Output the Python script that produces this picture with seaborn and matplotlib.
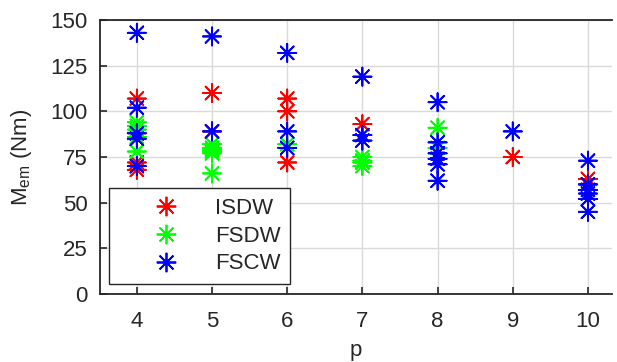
import matplotlib
matplotlib.use("Agg")
import matplotlib.pyplot as plt
import seaborn as sns
import pandas as pd
import numpy as np

# values
isdw_p = [4, 4, 4, 4, 5, 5, 6, 6, 6, 7, 9, 10, 10]
isdw_m = [107, 88, 72, 68, 110, 89, 107, 100, 72, 93, 75, 63, 60]

fsdw_p = [4, 4, 4, 4, 4, 5, 5, 5, 5, 5, 5, 6, 7, 7, 7, 7, 8, 8]
fsdw_m = [94, 92, 90, 86, 78, 82, 80, 79, 78, 77, 66, 82, 75, 73, 72, 70, 91, 80]

fscw_p = [4, 4, 4, 4, 4, 5, 5, 6, 6, 6, 7, 7, 7, 8, 8, 8, 8, 8, 8, 9, 10, 10, 10, 10, 10, 10]
fscw_m = [143, 102, 88, 85, 70, 141, 89, 132, 89, 80, 119, 87, 84, 105, 83, 77, 74, 71, 62, 89, 73, 60, 57, 55, 52, 45]

df = pd.concat([
    pd.DataFrame({"p": isdw_p, "M": isdw_m, "type": "ISDW"}),
    pd.DataFrame({"p": fsdw_p, "M": fsdw_m, "type": "FSDW"}),
    pd.DataFrame({"p": fscw_p, "M": fscw_m, "type": "FSCW"}),
])

sns.set_style("whitegrid")
plt.rcParams["font.family"] = ["Liberation Sans", "DejaVu Sans"]

fig = plt.figure(figsize=(6.17, 3.62), dpi=100)
ax = fig.add_axes([100 / 617, 68 / 362, 512 / 617, 274 / 362])

colors = {"ISDW": "#ff0000", "FSDW": "#00ff00", "FSCW": "#0000ff"}
sns.scatterplot(data=df, x="p", y="M", hue="type", palette=colors,
                marker=(8, 2, 0), s=170, linewidth=1.3, ax=ax, legend=False, zorder=3)

ax.set_xlim(3.51, 10.32)
ax.set_ylim(0, 150)
ax.set_xticks(np.arange(4, 11))
ax.set_yticks(np.arange(0, 151, 25))
ax.tick_params(labelsize=16, direction="in", length=5, width=1.2, colors="#262626",
               top=False, right=False, bottom=True, left=True)
ax.tick_params(axis="x", pad=12)
ax.tick_params(axis="y", pad=9)
ax.grid(True, color="#dadada", linewidth=1)
for s in ax.spines.values():
    s.set_color("#262626")
    s.set_linewidth(1.3)
ax.spines["right"].set_visible(False)

ax.set_xlabel("p", fontsize=16, color="#262626", labelpad=6)
ax.set_ylabel(r"M$_{\mathregular{em}}$ (Nm)", fontsize=16, color="#262626", labelpad=12)

handles = [plt.Line2D([], [], linestyle="none", marker=(8, 2, 0), markersize=14,
                      markeredgewidth=1.3, color=colors[k]) for k in ["ISDW", "FSDW", "FSCW"]]
leg = ax.legend(handles, ["ISDW", "FSDW", "FSCW"], loc="lower left",
                bbox_to_anchor=(0.018, 0.035), fontsize=16, frameon=True, fancybox=False,
                edgecolor="#262626", framealpha=1, handlelength=4.2, handletextpad=0.1,
                labelspacing=0.3, borderpad=0.45, borderaxespad=0)
leg.get_frame().set_linewidth(1.0)

fig.savefig("out.png", dpi=100)
